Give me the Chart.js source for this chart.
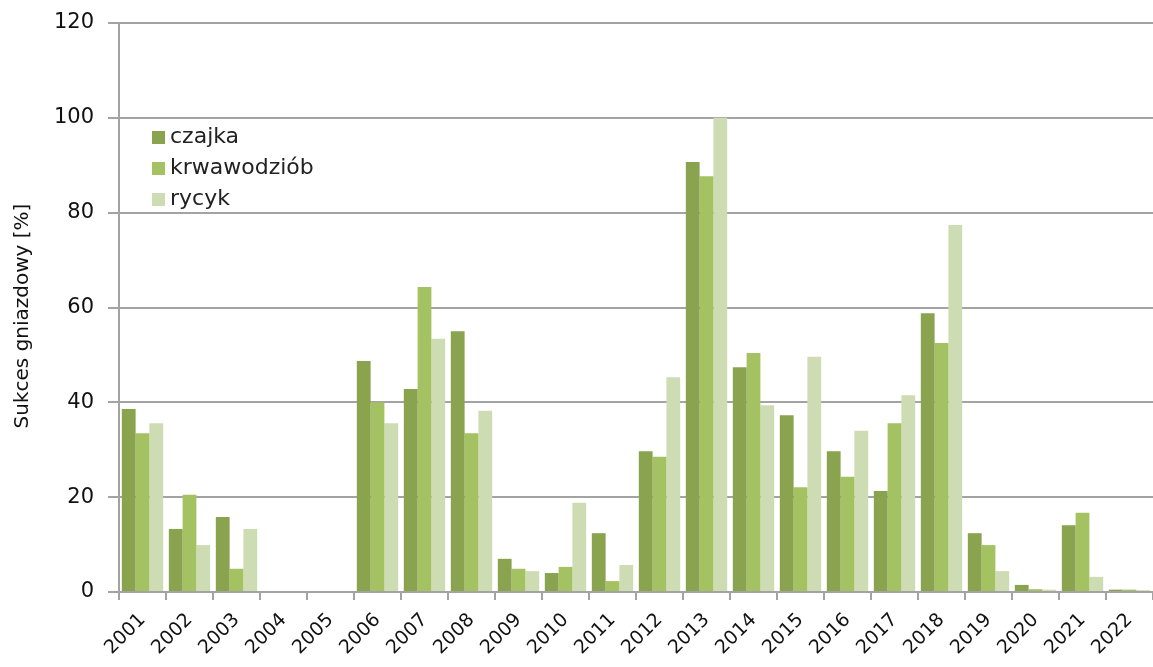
<!doctype html>
<html lang="pl">
<head>
    <meta charset="UTF-8" />
    <title>Sukces gniazdowy</title>
    <style>
        body {
            margin: 0;
            background: #fff;
        }
        .chart-container {
            position: relative;
            width: 1153px;
            height: 667px;
        }
    </style>
</head>
<body>
    <div class="chart-container">
        <canvas id="nestChart"></canvas>
    </div>

    <script src="https://cdn.jsdelivr.net/npm/chart.js"></script>
    <script>
        // Sukces gniazdowy [%] for three wader species
        const years = ['2001', '2002', '2003', '2004', '2005', '2006', '2007', '2008', '2009', '2010', '2011',
                       '2012', '2013', '2014', '2015', '2016', '2017', '2018', '2019', '2020', '2021', '2022'];
        const czajka = [38.6, 13.3, 15.8, null, null, 48.7, 42.8, 55.0, 7.0, 4.0, 12.4,
                        29.7, 90.7, 47.4, 37.3, 29.7, 21.3, 58.8, 12.4, 1.5, 14.1, 0.5];
        const krwawodziob = [33.5, 20.5, 4.9, null, null, 40.0, 64.3, 33.5, 4.9, 5.3, 2.3,
                             28.5, 87.7, 50.4, 22.1, 24.3, 35.6, 52.5, 9.9, 0.6, 16.7, 0.5];
        const rycyk = [35.6, 9.9, 13.3, null, null, 35.6, 53.4, 38.2, 4.4, 18.8, 5.7,
                       45.3, 100, 39.4, 49.6, 34.0, 41.5, 77.4, 4.4, 0.5, 3.2, 0.4];
        const yTicks = [0, 20, 40, 60, 80, 100, 120];
        const yTitle = 'Sukces gniazdowy [%]';

        const FONT = 'DejaVu Sans, Verdana, sans-serif';
        const GRID = '#a3a3a3';

        // legend inside the plot area (top left) and the rotated y title
        const extras = {
            id: 'extras',
            afterDraw(chart) {
                const ctx = chart.ctx;
                const area = chart.chartArea;
                const x = area.left + 33;
                ctx.save();
                ctx.font = '22px ' + FONT;
                ctx.textBaseline = 'middle';
                chart.data.datasets.forEach((ds, i) => {
                    const y = 137 + i * 31;
                    ctx.fillStyle = ds.backgroundColor;
                    ctx.fillRect(x, y - 6, 13, 13);
                    ctx.fillStyle = '#222';
                    ctx.fillText(ds.label, x + 18, y);
                });

                ctx.translate(23, 316);
                ctx.rotate(-Math.PI / 2);
                ctx.textAlign = 'center';
                ctx.font = '20px ' + FONT;
                ctx.fillStyle = '#111';
                ctx.fillText(yTitle, 0, 0);
                ctx.restore();
            }
        };

        const ctx = document.getElementById('nestChart').getContext('2d');
        const nestChart = new Chart(ctx, {
            type: 'bar',
            data: {
                labels: years,
                datasets: [
                    { label: 'czajka', data: czajka, backgroundColor: '#89a34f' },
                    { label: 'krwawodziób', data: krwawodziob, backgroundColor: '#a5c263' },
                    { label: 'rycyk', data: rycyk, backgroundColor: '#cddcb2' }
                ].map(d => Object.assign(d, { borderWidth: 0, categoryPercentage: 0.88, barPercentage: 1.0 }))
            },
            options: {
                responsive: true,
                maintainAspectRatio: false,
                animation: false,
                layout: { padding: { top: 23, right: 0, left: 0, bottom: 0 } },
                plugins: {
                    legend: { display: false },
                    tooltip: { enabled: false }
                },
                scales: {
                    x: {
                        offset: true,
                        grid: {
                            offset: true,
                            drawOnChartArea: false,
                            drawTicks: true,
                            tickLength: 8,
                            color: GRID,
                            lineWidth: 2
                        },
                        border: { color: GRID, width: 2 },
                        ticks: {
                            color: '#111',
                            font: { family: FONT, size: 19 },
                            minRotation: 45,
                            maxRotation: 45,
                            padding: 9,
                            autoSkip: false
                        },
                        afterFit(scale) {
                            scale.height = 75;
                            scale.paddingRight = 0;
                        }
                    },
                    y: {
                        min: 0,
                        max: 120,
                        afterBuildTicks(scale) {
                            scale.ticks = yTicks.map(v => ({ value: v }));
                        },
                        grid: {
                            color: GRID,
                            lineWidth: 2,
                            tickLength: 11
                        },
                        border: { color: GRID, width: 2 },
                        ticks: {
                            color: '#111',
                            font: { family: FONT, size: 21 },
                            padding: 14
                        },
                        afterFit(scale) {
                            scale.width = 119;
                            scale.paddingTop = 0;
                            scale.paddingBottom = 0;
                        }
                    }
                }
            },
            plugins: [extras]
        });
    </script>
</body>
</html>
